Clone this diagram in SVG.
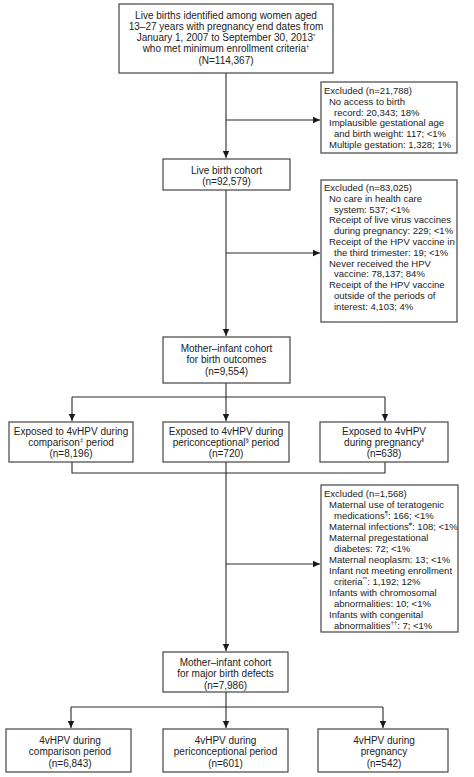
<svg xmlns="http://www.w3.org/2000/svg" width="474" height="777" viewBox="0 0 474 777">
<style>
.box{fill:#fff;stroke:#444;stroke-width:1.2}
.t{font-family:"Liberation Sans",Arial,sans-serif;font-size:10px;fill:#222}
.x{font-size:9.5px}
.c{text-anchor:middle}
.ln{fill:none;stroke:#2a2a2a;stroke-width:1.1}
.sup{font-size:6px}
</style>
<defs>
<marker id="ah" markerWidth="8" markerHeight="8" refX="7" refY="4" orient="auto" markerUnits="userSpaceOnUse">
<path d="M0,0.8 L7,4 L0,7.2 z" fill="#1a1a1a"/>
</marker>
</defs>
<rect width="474" height="777" fill="#fff"/>
<g id="connectors">
<path class="ln" d="M226,73 V158" marker-end="url(#ah)"/>
<path class="ln" d="M226,120 H320" marker-end="url(#ah)"/>
<path class="ln" d="M226,190 V336" marker-end="url(#ah)"/>
<path class="ln" d="M226,253 H320" marker-end="url(#ah)"/>
<path class="ln" d="M226,383 V397"/>
<path class="ln" d="M72,397 H385"/>
<path class="ln" d="M72,397 V421" marker-end="url(#ah)"/>
<path class="ln" d="M226,397 V421" marker-end="url(#ah)"/>
<path class="ln" d="M385,397 V421" marker-end="url(#ah)"/>
<path class="ln" d="M72,462 V473 H385 V462"/>
<path class="ln" d="M226,462 V651" marker-end="url(#ah)"/>
<path class="ln" d="M226,564 H320" marker-end="url(#ah)"/>
<path class="ln" d="M226,692 V707"/>
<path class="ln" d="M71,707 H383"/>
<path class="ln" d="M71,707 V728" marker-end="url(#ah)"/>
<path class="ln" d="M226,707 V728" marker-end="url(#ah)"/>
<path class="ln" d="M383,707 V728" marker-end="url(#ah)"/>
</g>
<g id="n-source">
<rect class="box" x="119" y="4" width="214" height="69"/>
<text class="t c" x="226" y="18.5">Live births identified among women aged</text>
<text class="t c" x="226" y="29.8">13–27 years with pregnancy end dates from</text>
<text class="t c" x="226" y="41.1">January 1, 2007 to September 30, 2013<tspan class="sup" dy="-3.5">*</tspan></text>
<text class="t c" x="226" y="52.4">who met minimum enrollment criteria<tspan class="sup" dy="-3.5">†</tspan></text>
<text class="t c" x="226" y="63.7">(N=114,367)</text>
</g>
<g id="n-excl1">
<rect class="box" x="321" y="82" width="136" height="71"/>
<text class="t x" x="324" y="94">Excluded (n=21,788)</text>
<text class="t x" x="329" y="104.8">No access to birth</text>
<text class="t x" x="334" y="115.6">record: 20,343; 18%</text>
<text class="t x" x="329" y="126.4">Implausible gestational age</text>
<text class="t x" x="334" y="137.2">and birth weight: 117; &lt;1%</text>
<text class="t x" x="329" y="148">Multiple gestation: 1,328; 1%</text>
</g>
<g id="n-livebirth">
<rect class="box" x="163" y="159" width="127" height="31"/>
<text class="t c" x="226.5" y="173.5">Live birth cohort</text>
<text class="t c" x="226.5" y="185">(n=92,579)</text>
</g>
<g id="n-excl2">
<rect class="box" x="321" y="180" width="136" height="142"/>
<text class="t x" x="324" y="191">Excluded (n=83,025)</text>
<text class="t x" x="329" y="201.8">No care in health care</text>
<text class="t x" x="334" y="212.6">system: 537; &lt;1%</text>
<text class="t x" x="329" y="223.4">Receipt of live virus vaccines</text>
<text class="t x" x="334" y="234.2">during pregnancy: 229; &lt;1%</text>
<text class="t x" x="329" y="245">Receipt of the HPV vaccine in</text>
<text class="t x" x="334" y="255.8">the third trimester: 19; &lt;1%</text>
<text class="t x" x="329" y="266.6">Never received the HPV</text>
<text class="t x" x="334" y="277.4">vaccine: 78,137; 84%</text>
<text class="t x" x="329" y="288.2">Receipt of the HPV vaccine</text>
<text class="t x" x="334" y="299">outside of the periods of</text>
<text class="t x" x="334" y="309.8">interest: 4,103; 4%</text>
</g>
<g id="n-cohort1">
<rect class="box" x="163" y="337" width="127" height="46"/>
<text class="t c" x="226.5" y="351.5">Mother–infant cohort</text>
<text class="t c" x="226.5" y="363">for birth outcomes</text>
<text class="t c" x="226.5" y="374.5">(n=9,554)</text>
</g>
<g id="n-exp-comp">
<rect class="box" x="9" y="422" width="124" height="40"/>
<text class="t c" x="71" y="434.5">Exposed to 4vHPV during</text>
<text class="t c" x="71" y="445.5">comparison<tspan class="sup" dy="-3.5">‡</tspan><tspan dy="3.5"> period</tspan></text>
<text class="t c" x="71" y="456.5">(n=8,196)</text>
</g>
<g id="n-exp-peri">
<rect class="box" x="163" y="422" width="126" height="40"/>
<text class="t c" x="226" y="434.5">Exposed to 4vHPV during</text>
<text class="t c" x="226" y="445.5">periconceptional<tspan class="sup" dy="-3.5">§</tspan><tspan dy="3.5"> period</tspan></text>
<text class="t c" x="226" y="456.5">(n=720)</text>
</g>
<g id="n-exp-preg">
<rect class="box" x="320" y="422" width="128" height="40"/>
<text class="t c" x="384" y="434.5">Exposed to 4vHPV</text>
<text class="t c" x="384" y="445.5">during pregnancy<tspan class="sup" dy="-3.5">‖</tspan></text>
<text class="t c" x="384" y="456.5">(n=638)</text>
</g>
<g id="n-excl3">
<rect class="box" x="321" y="485" width="137" height="147"/>
<text class="t x" x="324" y="496.5">Excluded (n=1,568)</text>
<text class="t x" x="329" y="507.5">Maternal use of teratogenic</text>
<text class="t x" x="334" y="518.5">medications<tspan class="sup" dy="-3.5">¶</tspan><tspan dy="3.5">: 166; &lt;1%</tspan></text>
<text class="t x" x="329" y="529.5">Maternal infections<tspan class="sup" dy="-3.5">#</tspan><tspan dy="3.5">: 108; &lt;1%</tspan></text>
<text class="t x" x="329" y="540.5">Maternal pregestational</text>
<text class="t x" x="334" y="551.5">diabetes: 72; &lt;1%</text>
<text class="t x" x="329" y="562.5">Maternal neoplasm: 13; &lt;1%</text>
<text class="t x" x="329" y="573.5">Infant not meeting enrollment</text>
<text class="t x" x="334" y="584.5">criteria<tspan class="sup" dy="-3.5">**</tspan><tspan dy="3.5">: 1,192; 12%</tspan></text>
<text class="t x" x="329" y="595.5">Infants with chromosomal</text>
<text class="t x" x="334" y="606.5">abnormalities: 10; &lt;1%</text>
<text class="t x" x="329" y="617.5">Infants with congenital</text>
<text class="t x" x="334" y="628.5">abnormalities<tspan class="sup" dy="-3.5">††</tspan><tspan dy="3.5">: 7; &lt;1%</tspan></text>
</g>
<g id="n-cohort2">
<rect class="box" x="163" y="652" width="125" height="40"/>
<text class="t c" x="225.5" y="665.5">Mother–infant cohort</text>
<text class="t c" x="225.5" y="677">for major birth defects</text>
<text class="t c" x="225.5" y="688.5">(n=7,986)</text>
</g>
<g id="n-out-comp">
<rect class="box" x="6" y="729" width="125" height="43"/>
<text class="t c" x="70" y="743.5">4vHPV during</text>
<text class="t c" x="70" y="755">comparison period</text>
<text class="t c" x="70" y="766.5">(n=6,843)</text>
</g>
<g id="n-out-peri">
<rect class="box" x="163" y="729" width="125" height="43"/>
<text class="t c" x="225.5" y="743.5">4vHPV during</text>
<text class="t c" x="225.5" y="755">periconceptional period</text>
<text class="t c" x="225.5" y="766.5">(n=601)</text>
</g>
<g id="n-out-preg">
<rect class="box" x="318" y="729" width="130" height="43"/>
<text class="t c" x="384" y="743.5">4vHPV during</text>
<text class="t c" x="384" y="755">pregnancy</text>
<text class="t c" x="384" y="766.5">(n=542)</text>
</g>
</svg>
